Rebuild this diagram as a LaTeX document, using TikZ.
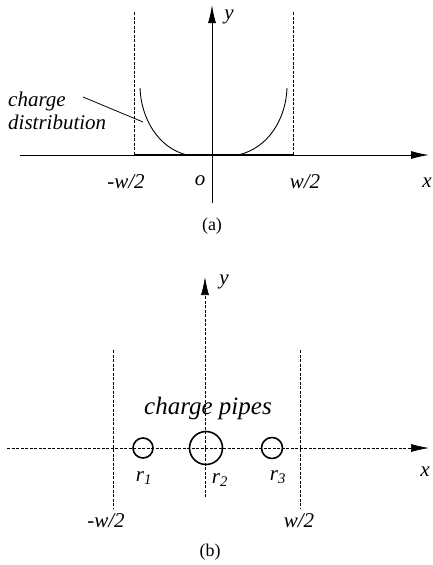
\documentclass[tikz,border=0pt]{standalone}
\usepackage{fontspec}
\setmainfont{Liberation Serif}
\usepackage{tikz}
\usetikzlibrary{arrows.meta, positioning}
\tikzstyle{axis} = [line width=1pt, -{Latex[length=18pt,width=8pt]}]
\tikzstyle{bound} = [line width=0.7pt, dashed, dash pattern=on 3pt off 1.5pt]
\tikzstyle{lbl} = [font=\itshape\fontsize{21}{23}\selectfont, inner sep=1pt]
\tikzstyle{pipe} = [circle, draw, line width=1.6pt, inner sep=0pt]

\begin{document}
\begin{tikzpicture}[x=1pt, y=-1pt]
    \useasboundingbox (0,0) rectangle (433,565);
    % (a) charge distribution
    \coordinate (ax0) at (20,155);
    \coordinate (ax1) at (429,155);
    \coordinate (ay0) at (212,203);
    \coordinate (ay1) at (212,5);
    \draw[axis] (ax0) -- (ax1);
    \draw[axis] (ay0) -- (ay1);
    \draw[bound] (134,12) -- (134,155);
    \draw[bound] (293,12) -- (293,155);
    \draw[line width=2.6pt] (134,155) -- (293,155);
    \draw[line width=0.9pt] (140,88) .. controls (141,118) and (158,148) .. (187,155);
    \draw[line width=0.9pt] (287,88) .. controls (286,118) and (269,148) .. (238,155);
    \node[lbl] (ya) at (229,17) {y};
    \node[lbl] (xa) at (427,183) {x};
    \node[lbl] (mwa) at (126,182) {-w/2};
    \node[lbl] (oa) at (200,181) {o};
    \node[lbl] (pwa) at (305,182) {w/2};
    \node[lbl, align=left, anchor=west] (dist) at (7,111) {charge\\distribution};
    \coordinate (distpt) at (143,122);
    \draw[line width=0.8pt] (83,97) -- (distpt);
    \node[font=\fontsize{18}{20}\selectfont] (capa) at (212,226) {(a)};
    % (b) charge pipes
    \coordinate (bx0) at (7,448);
    \coordinate (bx1) at (429,448);
    \coordinate (by0) at (205,497);
    \coordinate (by1) at (205,277);
    \draw[axis, bound] (bx0) -- (bx1);
    \draw[axis, bound] (by0) -- (by1);
    \draw[bound] (113,350) -- (113,508);
    \draw[bound] (300,350) -- (300,508);
    \node[pipe, minimum size=20pt] (p1) at (143,448) {};
    \node[pipe, minimum size=33pt] (p2) at (206,448) {};
    \node[pipe, minimum size=21pt] (p3) at (272,448) {};
    \node[lbl] (yb) at (224,282) {y};
    \node[lbl] (xb) at (425,472) {x};
    \node[lbl] (r1) at (144,478) {r\textsubscript{1}};
    \node[lbl] (r2) at (220,480) {r\textsubscript{2}};
    \node[lbl] (r3) at (278,477) {r\textsubscript{3}};
    \node[lbl, font=\itshape\fontsize{25}{27}\selectfont] (pipes) at (208,408) {charge pipes};
    \node[lbl] (mwb) at (106,521) {-w/2};
    \node[lbl] (pwb) at (299,521) {w/2};
    \node[font=\fontsize{18}{20}\selectfont] (capb) at (210,552) {(b)};
  \end{tikzpicture}
\end{document}
